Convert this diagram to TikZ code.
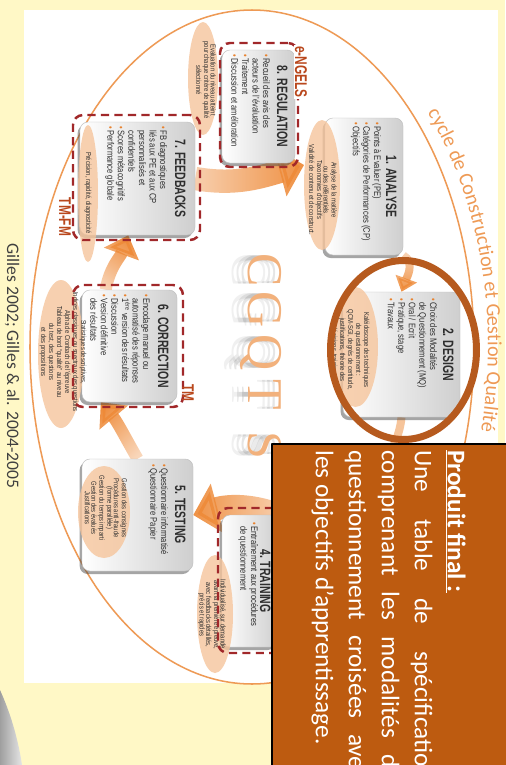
\documentclass[tikz,border=0pt]{standalone}
\usepackage{fontspec}
\setmainfont{Liberation Sans}
\newfontfamily\boxfont{Liberation Sans}[FakeStretch=0.8]
\newfontfamily\titlefont{Liberation Sans Bold}[FakeStretch=0.7]
\newfontfamily\slidefont{Carlito}
\newfontfamily\logofont{Liberation Serif}
\usetikzlibrary{arrows.meta, positioning, calc, fit, shadows, shapes.geometric, decorations.text, fadings}

\definecolor{cbg}{HTML}{FFF8C6}
\definecolor{corange}{HTML}{EE9A55}
\definecolor{cring}{HTML}{B65A1E}
\definecolor{cbox}{HTML}{BD5B10}
\definecolor{cpeach}{HTML}{F6C49A}
\definecolor{cbullet}{HTML}{E8822E}
\definecolor{cdash}{HTML}{A1282A}
\definecolor{carrow}{HTML}{EE8A38}
\definecolor{clabel}{HTML}{B9471C}
\definecolor{ctext}{HTML}{2E2E2E}
\definecolor{clogo}{HTML}{F2B17C}

\newcommand{\bul}{\textcolor{cbullet}{\textbullet}\hspace{1.5pt}}
\newcommand{\ind}{\hphantom{\bul}}

\pgfdeclarelayer{page}
\pgfdeclarelayer{arrows}
\pgfsetlayers{page,arrows,main}

\tikzfading[name=arrowfade, left color=transparent!65, right color=transparent!0]

\tikzset{
  stepbox/.style={draw=gray!50, line width=0.4pt, rounded corners=0.24cm, inner sep=0pt,
    left color=white, right color=gray!38,
    drop shadow={shadow xshift=-0.07cm, shadow yshift=-0.09cm, opacity=0.5, fill=black!70}},
  steptitle/.style={rotate=-90, inner sep=0pt, text=ctext,
    font=\titlefont\fontsize{12.8}{14}\selectfont},
  steplist/.style={rotate=-90, anchor=north west, inner sep=0pt, align=left, text=ctext,
    font=\boxfont\fontsize{8.1}{9}\selectfont},
  oval/.style 2 args={ellipse, inner sep=0pt, outer sep=0pt,
    minimum width=#1*0.03cm, minimum height=#2*0.03cm},
  peach/.style={fill=cpeach, fill opacity=0.78},
  peachtext/.style={rotate=-90, inner sep=0pt, align=center, text=ctext,
    font=\boxfont\fontsize{6.2}{5.6}\selectfont},
  dashbox/.style={draw=cdash, line width=2.1pt, dash pattern=on 7pt off 4.5pt,
    rounded corners=0.3cm, inner sep=0pt},
  tag/.style={rotate=-90, inner sep=1pt, text=clabel,
    font=\titlefont\fontsize{14.5}{15}\selectfont},
  fade/.style={path fading=arrowfade, fading angle=#1},
  bigarr/.style={draw=carrow, line width=0.7cm, -{Triangle[width=1.5cm, length=0.75cm]}},
  midarr/.style={draw=carrow, line width=0.36cm, -{Triangle[width=1.08cm, length=0.6cm]}},
  smallarr/.style={draw=carrow, line width=0.24cm, -{Triangle[width=0.66cm, length=0.42cm]}},
  logo/.style={rotate=-90, anchor=base, inner sep=0pt, font=\logofont\fontsize{42.7}{43}\selectfont},
}

\begin{document}
\begin{tikzpicture}[x=0.3mm, y=-0.3mm, line join=round]
  \useasboundingbox (0,0) rectangle (505,765);

  \begin{pgfonlayer}{page}
    % page and slide
    \fill[cbg] (0,0) rectangle (505,765);
    \fill[white] (24,10) rectangle (498,683);
    \shade[left color=gray!75, right color=gray!20] (0,690) .. controls (10,712) and (18,738) .. (22,765) -- (0,765) -- cycle;
    \node[rotate=-90, font=\slidefont\fontsize{15}{15}\selectfont, text=black!75] (source) at (12,366) {Gilles 2002; Gilles \& al. 2004-2005};

    % cycle outline
    \draw[corange, line width=1.3pt] (252,347) ellipse [x radius=222, y radius=337];
    \path[decorate, decoration={text along path, text align=left,
        text={|\slidefont\fontsize{17.2}{18}\selectfont\color{corange}|cycle de Construction et Gestion Qualité}}]
      ($(252,347)+(-42:236 and 350)$) arc[start angle=-42, end angle=35, x radius=236, y radius=350];

    % CGQTS
    \foreach \ch/\yy [count=\i] in {C/270, G/310, Q/353, T/395, S/445} {
      \node[logo, text=black, opacity=0.06] (shA\i) at (232,\yy) {\ch};
      \node[logo, text=black, opacity=0.08] (shB\i) at (237,\yy) {\ch};
      \node[logo, text=black, opacity=0.10] (shC\i) at (242,\yy) {\ch};
      \node[logo, text=clogo] (logo\i) at (248,\yy) {\ch};
    }
  \end{pgfonlayer}

  %% step boxes
  \node[stepbox, fit={(325,118) (403,255)}] (ana) {};
  \node[stepbox, fit={(343,292) (460,417)}] (des) {};
  \node[stepbox, fit={(222,515) (278,647)}] (train) {};
  \node[stepbox, fit={(82,459) (193,571)}] (test) {};
  \node[stepbox, fit={(82,290) (177,402)}] (corr) {};
  \node[stepbox, fit={(80,122) (195,235)}] (feed) {};
  \node[stepbox, fit={(222,50) (295,163)}] (reg) {};

  \node[steptitle] (anaT) at ($(ana.east)+(-12,0)$) {1. ANALYSE};
  \node[steptitle] (desT) at ($(des.east)+(-12,0)$) {2. DESIGN};
  \node[steptitle] (trainT) at ($(train.east)+(-13,0)$) {4. TRAINING};
  \node[steptitle] (testT) at ($(test.east)+(-13,0)$) {5. TESTING};
  \node[steptitle] (corrT) at ($(corr.east)+(-14,0)$) {6. CORRECTION};
  \node[steptitle] (feedT) at ($(feed.east)+(-15,0)$) {7. FEEDBACKS};
  \node[steptitle] (regT) at ($(reg.east)+(-13,0)$) {8. REGULATION};

  \node[steplist] (anaL) at ($(ana.north east)+(-22,4)$)
    {\bul Points à Evaluer (PE)\\ \bul Catégories de Performances (CP)\\ \bul Objectifs};
  \node[steplist] (desL) at ($(des.north east)+(-23,6)$)
    {\bul Choix des Modalités\\ \ind de Questionnement (MQ)\\ \bul Oral / Ecrit\\ \bul Pratique, stage\\ \bul Travaux};
  \node[steplist] (trainL) at ($(train.north east)+(-20,7)$)
    {\bul Entraînement aux procédures\\ \ind de questionnement};
  \node[steplist] (testL) at ($(test.north east)+(-25,5)$)
    {\bul Questionnaire informatisé\\ \bul Questionnaire Papier};
  \node[steplist] (corrL) at ($(corr.north east)+(-27,4)$)
    {\bul Encodage manuel ou\\ \ind automatisé des réponses\\ \bul 1\textsuperscript{ère} version des résultats\\ \bul Discussion\\ \bul Version définitive\\ \ind des résultats};
  \node[steplist] (feedL) at ($(feed.north east)+(-28,4)$)
    {\bul FB diagnostiques\\ \ind liés aux PE et aux CP\\ \ind personnalisés et\\ \ind confidentiels\\ \bul Scores métacognitifs\\ \bul Performance globale};
  \node[steplist] (regL) at ($(reg.north east)+(-25,4)$)
    {\bul Recueil des avis des\\ \ind acteurs de l’évaluation\\ \bul Traitement\\ \bul Discussion et amélioration};

  %% notes
  \node[oval={36}{130}, peach] (anaE) at (322,185) {};
  \node[oval={45}{120}, peach] (desE) at (355.5,347) {};
  \node[oval={36}{118}, peach] (trainE) at (215,614) {};
  \node[oval={52}{92}, peach] (testE) at (104,512) {};
  \node[oval={46}{148}, peach] (corrE) at (61,354) {};
  \node[oval={20}{137}, peach] (feedE) at (88,193.5) {};
  \node[oval={30}{113}, peach] (regE) at (203,78.5) {};

  \node[peachtext] (anaP) at (323,190) {Analyse de la matière\\ou des référentiels\\Taxonomies d’objectifs\\Validité de contenu et de construct.};
  \node[peachtext] (desP) at (350,350) {Kaléidoscope des techniques\\de questionnement :\\QCM-SGI, degrés de certitude,\\justifications, théorie des\\décisions, training};
  \node[peachtext] (trainP) at (212,615) {Individualisé, sur demande,\\avant la première épreuve,\\avec feedbacks détaillés,\\précis et rapides};
  \node[peachtext] (testP) at (106,508) {Gestion des consignes\\Procédures anti-fraude\\(forme parallèle)\\Gestion du temps imparti\\Gestion des évalués\\Justifications};
  \node[peachtext] (corrP) at (63,352) {Statistiques descriptives,\\Indices classiques ou spectraux des questions\\Alpha de Cronbach de l’épreuve\\Tableau de bord “qualité” au niveau\\du test, des questions\\et des propositions};
  \node[peachtext] (feedP) at (88,193) {Précision, rapidité, diagnosticité};
  \node[peachtext] (regP) at (206,80) {Evaluation du niveau atteint\\pour chaque critère de qualité\\sélectionné};

  %% dashed groups
  \node[dashbox, fit={(220,43) (298,167)}] (regD) {};
  \node[dashbox, fit={(73,115) (200,240)}] (feedD) {};
  \node[dashbox, fit={(73,285) (183,407)}] (corrD) {};
  \node[dashbox, fit={(218,508) (310,653)}] (trainD) {};
  \node[tag, fill=white] (ngels) at (301,72) {e-NGELS};
  \node[tag] (tmfm) at (65,217) {TM-FM};
  \node[tag] (tm) at (188,393) {TM};

  \coordinate (stepthree) at (388,475);

  %% flow arrows
  \begin{pgfonlayer}{arrows}
    \draw[smallarr, fade=-90] (ana.south east) to[out=-30, in=70] (des.north);
    \draw[smallarr, draw=cpeach] (des.south) to[out=-95, in=90] (stepthree);
    \draw[bigarr, fade=180] (train.north east) to[out=160, in=15] (test.east);
    \draw[midarr, fade=125] (test.north) to[out=120, in=-50] ($(corr.south west)!0.2!(corr.south east)$);
    \draw[midarr, fade=70] ($(corr.north west)!0.25!(corr.north east)$) to[out=80, in=-110] ($(feed.south west)!0.42!(feed.south east)$);
    \draw[bigarr, fade=0] (feed.east) to[out=-10, in=195] ([yshift=0.6cm]anaE.west);
  \end{pgfonlayer}

  %% design highlight and final product
  \node[oval={146}{179}, draw=cring, line width=0.21cm] (ring) at (403.5,350) {};
  \node[draw=black, line width=1.5pt, fill=cbox, inner sep=0pt, fit={(272,444) (520,780)}] (finalbox) {};
  \node[rotate=-90, anchor=north west, inner sep=0pt, text width=9.9cm, align=justify, text=white,
    font=\slidefont\fontsize{21.6}{28.2}\selectfont] (final) at (466,450)
    {\textbf{\underline{Produit final :}}\\
     Une table de spécification\linebreak
     comprenant les modalités de\linebreak
     questionnement croisées avec\linebreak
     les objectifs d’apprentissage.};
\end{tikzpicture}
\end{document}
